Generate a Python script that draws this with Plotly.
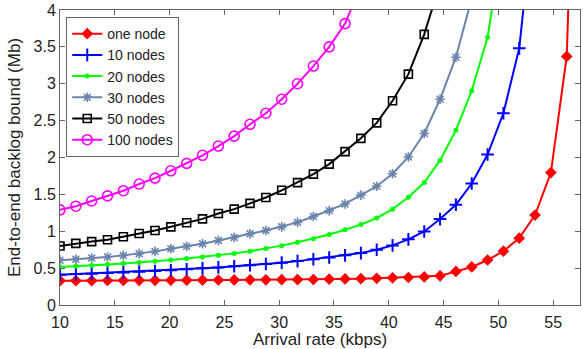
import plotly.graph_objects as go

# Arrival rate (kbps) at each computed point
x_rate = [10.0, 11.445, 12.89, 14.335, 15.78, 17.225, 18.67, 20.115, 21.56, 23.005,
          24.45, 25.895, 27.34, 28.785, 30.23, 31.675, 33.12, 34.565, 36.01, 37.455,
          38.9, 40.345, 41.79, 43.235, 44.68, 46.125, 47.57, 49.015, 50.46, 51.905,
          53.35, 54.795, 56.24, 57.685]

one_node = [0.33, 0.33, 0.33, 0.332, 0.333, 0.334, 0.335, 0.336, 0.337, 0.338,
            0.339, 0.34, 0.341, 0.342, 0.343, 0.345, 0.346, 0.35, 0.354, 0.357,
            0.362, 0.368, 0.373, 0.381, 0.395, 0.455, 0.516, 0.61, 0.73, 0.906,
            1.22, 1.795, 3.37, 10.0]
nodes_10 = [0.41, 0.42, 0.425, 0.433, 0.442, 0.452, 0.462, 0.472, 0.485, 0.497,
            0.51, 0.525, 0.54, 0.556, 0.574, 0.595, 0.62, 0.645, 0.673, 0.704,
            0.75, 0.808, 0.89, 0.997, 1.165, 1.36, 1.647, 2.04, 2.6, 3.48, 5.5]
nodes_20 = [0.516, 0.525, 0.537, 0.55, 0.563, 0.577, 0.593, 0.61, 0.63, 0.65,
            0.675, 0.7, 0.73, 0.765, 0.805, 0.85, 0.9, 0.955, 1.02, 1.09,
            1.18, 1.30, 1.46, 1.66, 1.96, 2.37, 2.905, 3.63, 5.0]
nodes_30 = [0.606, 0.62, 0.637, 0.65, 0.673, 0.696, 0.727, 0.763, 0.795, 0.83,
            0.875, 0.916, 0.965, 1.01, 1.06, 1.12, 1.2, 1.28, 1.37, 1.49,
            1.61, 1.78, 2.007, 2.326, 2.79, 3.36, 4.16]
nodes_50 = [0.80, 0.835, 0.86, 0.885, 0.925, 0.97, 1.01, 1.06, 1.115, 1.168,
            1.24, 1.30, 1.378, 1.458, 1.555, 1.66, 1.774, 1.91, 2.08, 2.26,
            2.47, 2.77, 3.13, 3.67, 4.36]
nodes_100 = [1.29, 1.34, 1.41, 1.48, 1.55, 1.64, 1.72, 1.82, 1.92, 2.03,
             2.155, 2.29, 2.45, 2.6, 2.79, 3.0, 3.24, 3.5, 3.815, 4.33]

names = ["one node", "10 nodes", "20 nodes", "30 nodes", "50 nodes", "100 nodes"]
series = [one_node, nodes_10, nodes_20, nodes_30, nodes_50, nodes_100]
colors = ["#FF0000", "#0000FF", "#00FF00", "#6A84AE", "#000000", "#FF00FF"]
symbols = ["diamond", "cross-thin", "circle", "asterisk-open", "square-open", "circle-open"]
msizes = [9, 9, 5, 8, 8, 10]
mlw = [0, 2, 0, 1.6, 1.6, 1.6]

x_ticks = [10, 15, 20, 25, 30, 35, 40, 45, 50, 55]
y_ticks = [0, 0.5, 1, 1.5, 2, 2.5, 3, 3.5, 4]
y_labels = ["0", "0.5", "1", "1.5", "2", "2.5", "3", "3.5", "4"]

fig = go.Figure()
for name, ys, c, s, ms, lw in zip(names, series, colors, symbols, msizes, mlw):
    fig.add_trace(go.Scatter(
        x=x_rate[:len(ys)], y=ys, name=name, mode="lines+markers",
        line=dict(color=c, width=2),
        marker=dict(symbol=s, size=ms, color=c, line=dict(color=c, width=lw)),
    ))

font_family = "Liberation Sans, Arial, sans-serif"
axis_common = dict(
    showline=True, linecolor="#666666", linewidth=1, mirror="ticks",
    ticks="inside", ticklen=5, tickcolor="#666666", showgrid=False, zeroline=False,
    tickfont=dict(size=16, color="#222222", family=font_family),
    ticklabeloverflow="allow",
)
fig.update_layout(
    width=583, height=349,
    margin=dict(l=60, r=2, t=8, b=44),
    paper_bgcolor="white", plot_bgcolor="white",
    font=dict(family=font_family, color="#222222"),
    xaxis=dict(range=[10, 57.45], tickvals=x_ticks, ticklabelstandoff=3,
               title=dict(text="Arrival rate (kbps)", font=dict(size=17), standoff=2),
               **axis_common),
    yaxis=dict(range=[0, 4], tickvals=y_ticks, ticktext=y_labels,
               title=dict(text="End-to-end backlog bound (Mb)", font=dict(size=17), standoff=8),
               **axis_common),
    legend=dict(x=0.012, y=0.976, xanchor="left", yanchor="top",
                bgcolor="white", bordercolor="#666666", borderwidth=1,
                font=dict(size=14, color="#222222"), tracegroupgap=0),
    showlegend=True,
)
fig.write_html("out.html")
